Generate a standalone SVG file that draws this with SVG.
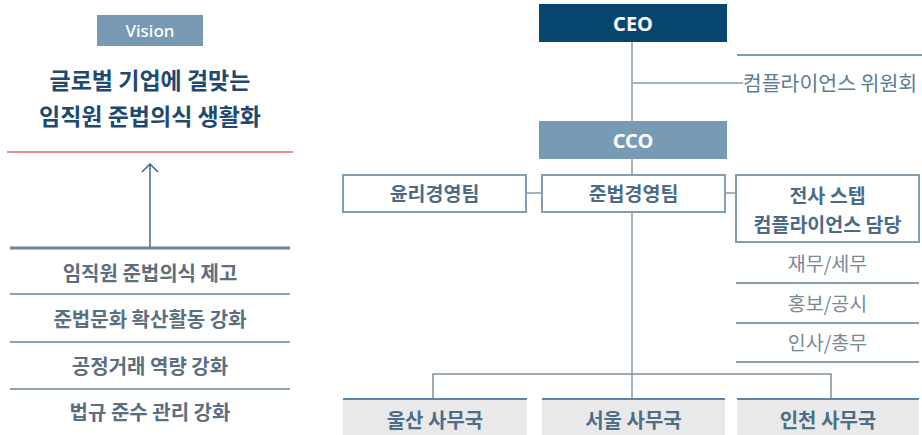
<svg xmlns="http://www.w3.org/2000/svg" width="922" height="435" viewBox="0 0 922 435">
<style>
  text { font-family: "Noto Sans CJK KR", "Noto Sans", sans-serif; text-anchor: middle; }
  .lat { font-family: "Noto Sans", "Noto Sans CJK KR", sans-serif; }
  .title { font-size: 23px; font-weight: 700; fill: #1d4a6e; }
  .goal { font-size: 20px; font-weight: 700; fill: #5b6f7f; }
  .goalline { stroke: #8da2b2; stroke-width: 2; }
  .box { fill: #ffffff; stroke: #809eb7; stroke-width: 2; }
  .team { font-size: 19.5px; font-weight: 700; fill: #4a6b88; }
  .sub { font-size: 19.5px; font-weight: 400; fill: #7a8996; }
  .subline { stroke: #8aa0b1; stroke-width: 2; }
  .office { fill: #e9e9e9; }
  .officetop { stroke: #5f86a6; stroke-width: 2; }
  .otext { font-size: 20px; font-weight: 700; fill: #4d6d88; }
  .conn { stroke: #a2b3c1; stroke-width: 2; fill: none; }
  .conn2 { stroke: #7d909d; stroke-width: 1.5; fill: none; }
  .white { fill: #ffffff; font-size: 20px; font-weight: 700; }
</style>

<g id="vision">
  <rect x="97" y="15" width="106" height="31" fill="#7799b4"/>
  <text class="lat" x="150" y="36.5" font-size="17" font-weight="500" fill="#ffffff">Vision</text>
</g>
<g id="vision-title">
  <text class="title" x="150" y="89">글로벌 기업에 걸맞는</text>
  <text class="title" x="150" y="125">임직원 준법의식 생활화</text>
</g>
<line x1="7" y1="152" x2="293" y2="152" stroke="#f0898c" stroke-width="2"/>

<g id="arrow">
  <line x1="150" y1="165" x2="150" y2="247" stroke="#6f8ea8" stroke-width="2"/>
  <polyline points="142,172 150,164 158,172" fill="none" stroke="#3f6384" stroke-width="1.5"/>
</g>

<g id="goals">
  <line x1="10" y1="248" x2="290" y2="248" stroke="#6e8494" stroke-width="3"/>
  <text class="goal" x="150" y="280.5">임직원 준법의식 제고</text>
  <line class="goalline" x1="10" y1="294" x2="290" y2="294"/>
  <text class="goal" x="150" y="327">준법문화 확산활동 강화</text>
  <line class="goalline" x1="10" y1="342" x2="290" y2="342"/>
  <text class="goal" x="150" y="374">공정거래 역량 강화</text>
  <line class="goalline" x1="10" y1="389" x2="290" y2="389"/>
  <text class="goal" x="150" y="420">법규 준수 관리 강화</text>
</g>

<g id="connectors">
  <line class="conn" x1="632" y1="42" x2="632" y2="121"/>
  <line class="conn" x1="632" y1="83" x2="743" y2="83"/>
  <line class="conn" x1="632" y1="159" x2="632" y2="175"/>
  <line class="conn" x1="526" y1="193" x2="542" y2="193"/>
  <line class="conn" x1="725" y1="193" x2="736" y2="193"/>
  <line class="conn" x1="632" y1="212" x2="632" y2="399"/>
  <polyline class="conn2" points="433,399 433,374 831,374 831,399"/>
</g>

<g id="ceo">
  <rect x="539" y="4" width="188" height="38" fill="#07466f"/>
  <text class="lat white" x="633" y="30.5">CEO</text>
</g>
<g id="committee">
  <line x1="737" y1="55" x2="922" y2="55" stroke="#7a9bb5" stroke-width="2"/>
  <text x="830" y="91" font-size="20.5" fill="#5c7c96">컴플라이언스 위원회</text>
</g>
<g id="cco">
  <rect x="539" y="121" width="188" height="38" fill="#789bb5"/>
  <text class="lat white" x="633" y="147.5">CCO</text>
</g>

<g id="ethics-team">
  <rect class="box" x="343" y="175" width="183" height="37"/>
  <text class="team" x="434.5" y="200.5">윤리경영팀</text>
</g>
<g id="compliance-team">
  <rect class="box" x="542" y="175" width="183" height="37"/>
  <text class="team" x="633.5" y="200.5">준법경영팀</text>
</g>
<g id="staff-compliance">
  <rect class="box" x="736" y="175" width="183" height="67"/>
  <text class="team" x="827.5" y="202.5">전사 스텝</text>
  <text class="team" x="827.5" y="232">컴플라이언스 담당</text>
</g>
<g id="staff-list">
  <text class="sub" x="827.5" y="270.5">재무/세무</text>
  <line class="subline" x1="736" y1="283" x2="919" y2="283"/>
  <text class="sub" x="827.5" y="310.5">홍보/공시</text>
  <line class="subline" x1="736" y1="323" x2="919" y2="323"/>
  <text class="sub" x="827.5" y="349.5">인사/총무</text>
  <line class="subline" x1="736" y1="362" x2="919" y2="362"/>
</g>

<g id="ulsan">
  <rect class="office" x="343" y="399" width="184" height="36"/>
  <line class="officetop" x1="343" y1="399" x2="527" y2="399"/>
  <text class="otext" x="435" y="427.5">울산 사무국</text>
</g>
<g id="seoul">
  <rect class="office" x="542" y="399" width="183" height="36"/>
  <line class="officetop" x1="542" y1="399" x2="725" y2="399"/>
  <text class="otext" x="633.5" y="427.5">서울 사무국</text>
</g>
<g id="incheon">
  <rect class="office" x="737" y="399" width="182" height="36"/>
  <line class="officetop" x1="737" y1="399" x2="919" y2="399"/>
  <text class="otext" x="828" y="427.5">인천 사무국</text>
</g>
</svg>
